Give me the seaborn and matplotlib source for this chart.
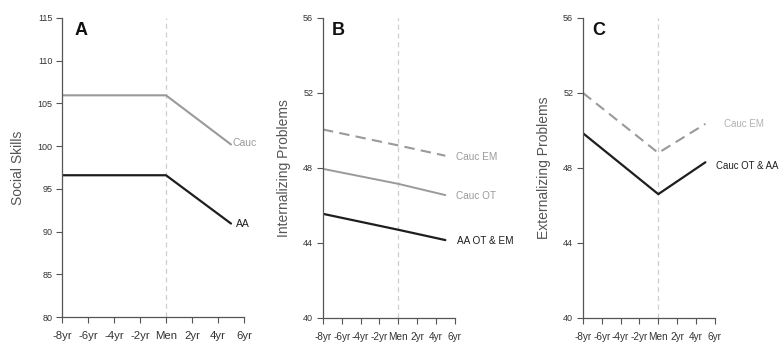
import numpy as np
import pandas as pd
import matplotlib
matplotlib.use('Agg')
import matplotlib.pyplot as plt
import seaborn as sns

# x positions (years relative to menarche)
tick_pos = [-8, -6, -4, -2, 0, 2, 4, 6]
tick_labels = ['-8yr', '-6yr', '-4yr', '-2yr', 'Men', '2yr', '4yr', '6yr']
x_pts = [-8, 0, 5]

# Panel A - social skills
a_cauc = [105.95, 105.95, 100.2]
a_aa = [96.6, 96.6, 90.95]

# Panel B - internalizing problems
b_cauc_em = [50.05, 49.2, 48.65]
b_cauc_ot = [47.95, 47.15, 46.55]
b_aa = [45.55, 44.7, 44.15]

# Panel C - externalizing problems
c_cauc_em = [52.0, 48.8, 50.35]
c_cauc_ot_aa = [49.85, 46.6, 48.3]

sns.set_style('ticks')
plt.rcParams['font.family'] = ['Liberation Sans', 'DejaVu Sans']

GRAY = '#9a9a9a'
LIGHT = '#b0b0b0'
DARK = '#1e1e1e'

fig = plt.figure(figsize=(7.8, 3.52), dpi=100)
axA = fig.add_axes([0.0795, 0.099, 0.2333, 0.850])
axB = fig.add_axes([0.414, 0.097, 0.169, 0.852])
axC = fig.add_axes([0.7474, 0.097, 0.169, 0.852])


def style_axis(ax, ylim, yticks, ylabel, letter, xfs):
    ax.axvline(0, color='#cfcfcf', lw=0.9, ls=(0, (4, 3)), zorder=0)
    ax.set_xlim(-8, 6)
    ax.set_ylim(*ylim)
    ax.set_xticks(tick_pos)
    ax.set_xticklabels(tick_labels, fontsize=xfs, color='#333333')
    ax.set_yticks(yticks)
    ax.set_yticklabels([str(v) for v in yticks], fontsize=6.5, color='#333333')
    ax.tick_params(axis='both', length=4, width=0.8, color='#555555', pad=3)
    ax.tick_params(axis='x', pad=6)
    ax.set_ylabel(ylabel, fontsize=10, color='#555555', labelpad=9)
    ax.set_xlabel('')
    for s in ['top', 'right']:
        ax.spines[s].set_visible(False)
    for s in ['left', 'bottom']:
        ax.spines[s].set_color('#555555')
        ax.spines[s].set_linewidth(0.9)
    ax.text(0.07, 0.985, letter, transform=ax.transAxes, fontsize=13,
            fontweight='bold', va='top', ha='left', color='#111111')


# Panel A
sns.lineplot(x=x_pts, y=a_cauc, ax=axA, color=GRAY, lw=1.5)
sns.lineplot(x=x_pts, y=a_aa, ax=axA, color=DARK, lw=1.6)
style_axis(axA, (80, 115), [80, 85, 90, 95, 100, 105, 110, 115], 'Social Skills', 'A', 8.2)
axA.text(5.1, a_cauc[-1] + 0.2, 'Cauc', fontsize=7.5, color=GRAY, va='center', ha='left')
axA.text(5.35, a_aa[-1], 'AA', fontsize=7.5, color=DARK, va='center', ha='left')

# Panel B
sns.lineplot(x=x_pts, y=b_cauc_em, ax=axB, color=GRAY, lw=1.5, linestyle=(0, (5, 3)))
sns.lineplot(x=x_pts, y=b_cauc_ot, ax=axB, color=GRAY, lw=1.4)
sns.lineplot(x=x_pts, y=b_aa, ax=axB, color=DARK, lw=1.6)
style_axis(axB, (40, 56), [40, 44, 48, 52, 56], 'Internalizing Problems', 'B', 7.2)
axB.text(6.1, b_cauc_em[-1] - 0.05, 'Cauc EM', fontsize=7.2, color=GRAY, va='center', ha='left')
axB.text(6.1, b_cauc_ot[-1] - 0.05, 'Cauc OT', fontsize=7.2, color=GRAY, va='center', ha='left')
axB.text(6.2, b_aa[-1] - 0.05, 'AA OT & EM', fontsize=7.2, color=DARK, va='center', ha='left')

# Panel C
sns.lineplot(x=x_pts, y=c_cauc_em, ax=axC, color=GRAY, lw=1.5, linestyle=(0, (5, 3)))
sns.lineplot(x=x_pts, y=c_cauc_ot_aa, ax=axC, color=DARK, lw=1.6)
style_axis(axC, (40, 56), [40, 44, 48, 52, 56], 'Externalizing Problems', 'C', 7.2)
axC.text(6.95, c_cauc_em[-1], 'Cauc EM', fontsize=7.0, color=LIGHT, va='center', ha='left')
axC.text(6.1, c_cauc_ot_aa[-1] - 0.2, 'Cauc OT & AA', fontsize=6.9, color=DARK, va='center', ha='left')

for ax in (axA, axB, axC):
    leg = ax.get_legend()
    if leg is not None:
        leg.remove()

fig.savefig('out.png', dpi=100)
